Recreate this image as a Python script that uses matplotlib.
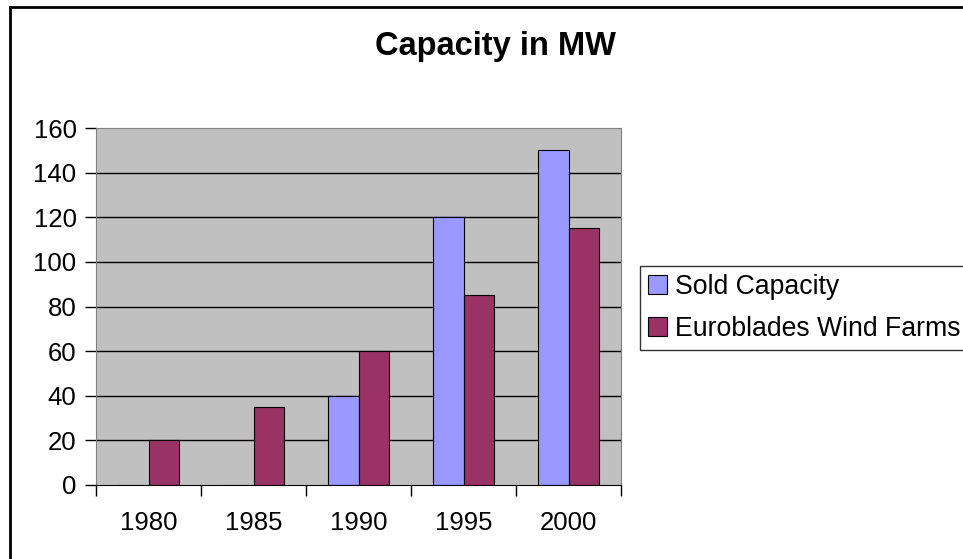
import matplotlib
matplotlib.use("Agg")
import matplotlib.pyplot as plt
from matplotlib.lines import Line2D
from matplotlib.patches import Patch
import numpy as np

years = ["1980", "1985", "1990", "1995", "2000"]
sold_capacity = [0, 0, 40, 120, 150]
euroblades = [20, 35, 60, 85, 115]
series_names = ["Sold Capacity", "Euroblades Wind Farms"]
colors = ["#9999FF", "#993366"]

plt.rcParams["font.family"] = ["Liberation Sans", "DejaVu Sans"]

fig = plt.figure(figsize=(9.63, 5.59), dpi=100)
ax = fig.add_axes([96 / 963, 1 - 485 / 559, 525 / 963, 357 / 559])

x = np.arange(len(years))
w = 0.295
ax.set_facecolor("#C0C0C0")
for v in range(20, 160, 20):
    ax.axhline(v, color="black", lw=1, zorder=1)
ax.bar(x - w / 2, sold_capacity, w, color=colors[0], edgecolor="black", lw=0.8, zorder=2)
ax.bar(x + w / 2, euroblades, w, color=colors[1], edgecolor="black", lw=0.8, zorder=2)

ax.set_xlim(-0.5, len(years) - 0.5)
ax.set_ylim(0, 160)
ax.set_yticks(range(0, 161, 20))
ax.set_xticks(x)
ax.set_xticklabels(years)
ax.set_xticks(np.arange(-0.5, len(years), 1), minor=True)
ax.tick_params(axis="x", which="major", length=0, pad=18.5, labelsize=18.5)
ax.tick_params(axis="x", which="minor", length=8, width=1, direction="out")
ax.tick_params(axis="y", length=8, width=1, direction="out", labelsize=18.5, pad=6)

for s in ["top", "right", "left"]:
    ax.spines[s].set_color("#808080")
ax.spines["bottom"].set_color("black")

fig.text(495 / 963, 1 - 47 / 559, "Capacity in MW", ha="center", va="center",
         fontsize=23.5, fontweight="bold")

handles = [Patch(facecolor=c, edgecolor="black", lw=0.8) for c in colors]
leg = fig.legend(handles, series_names, loc="upper left",
                 bbox_to_anchor=(640 / 963, 1 - 266 / 559), fontsize=19.2,
                 frameon=True, fancybox=False, edgecolor="black",
                 handlelength=0.7, handleheight=0.7, handletextpad=0.3,
                 borderpad=0.3, labelspacing=0.6, borderaxespad=0)
leg.get_frame().set_linewidth(1)

fig.add_artist(Line2D([10 / 963, 10 / 963], [0, 1 - 7 / 559], color="black", lw=2))
fig.add_artist(Line2D([10 / 963, 1], [1 - 7 / 559, 1 - 7 / 559], color="black", lw=2))

fig.savefig("out.png", dpi=100)
